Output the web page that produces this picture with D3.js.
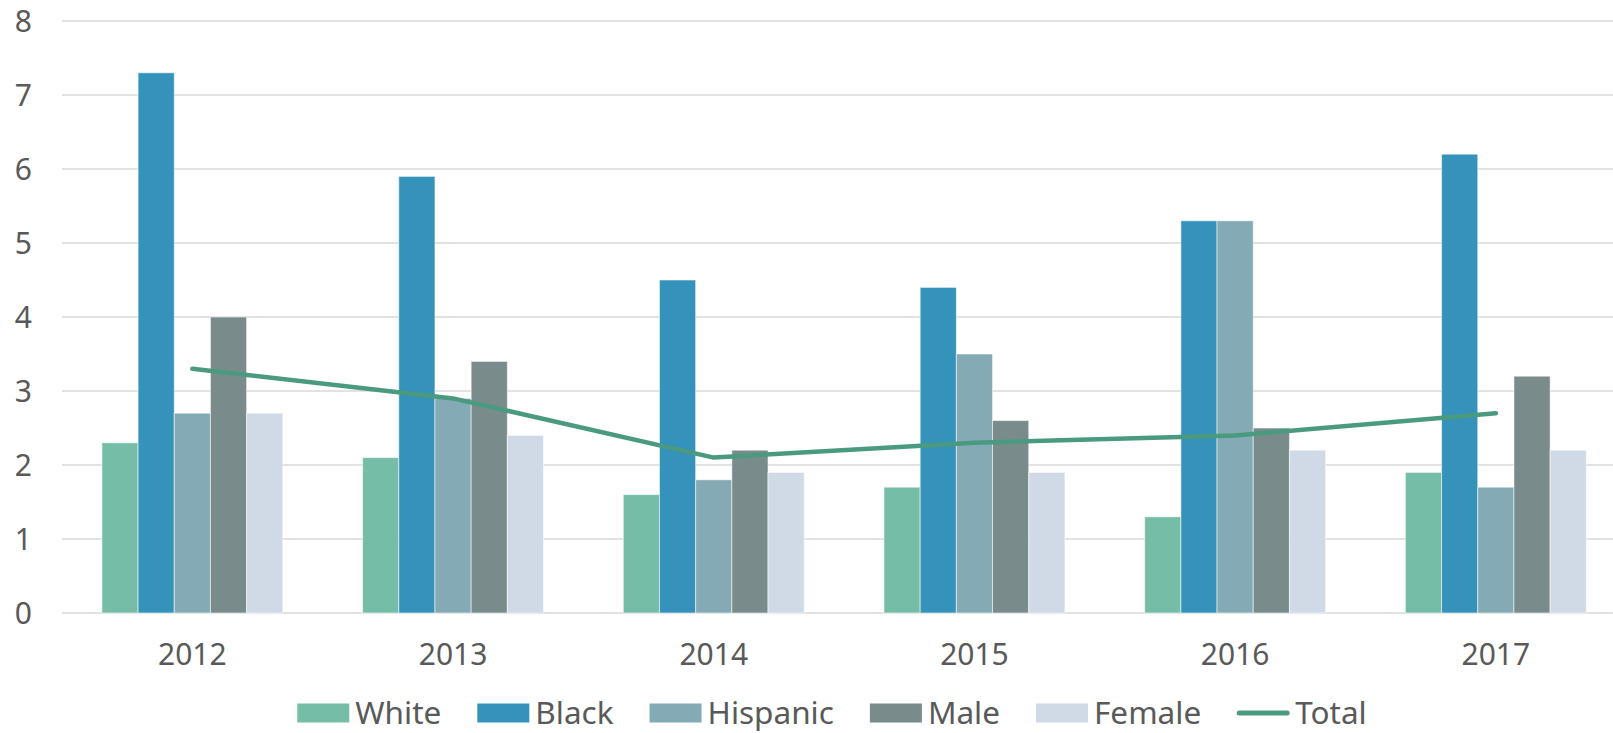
<!DOCTYPE html>
<html>
<head>
<meta charset="utf-8">
<script src="https://cdn.jsdelivr.net/npm/d3@7"></script>
<style>
  html, body { margin: 0; padding: 0; background: #fff; }
  svg { display: block; }
  .tick-label, .legend-label { font-family: "Noto Sans", "Open Sans", sans-serif; fill: #595959; }
</style>
</head>
<body>
<div id="chart"></div>
<script>
const years = ["2012", "2013", "2014", "2015", "2016", "2017"];
const seriesNames = ["White", "Black", "Hispanic", "Male", "Female"];
const white = [2.3, 2.1, 1.6, 1.7, 1.3, 1.9];
const black = [7.3, 5.9, 4.5, 4.4, 5.3, 6.2];
const hispanic = [2.7, 2.9, 1.8, 3.5, 5.3, 1.7];
const male = [4.0, 3.4, 2.2, 2.6, 2.5, 3.2];
const female = [2.7, 2.4, 1.9, 1.9, 2.2, 2.2];
const total = [3.3, 2.9, 2.1, 2.3, 2.4, 2.7];
const yTicks = [0, 1, 2, 3, 4, 5, 6, 7, 8];

const WIDTH = 1613;
const HEIGHT = 733;
const COLORS = {
  White: "#75bda7",
  Black: "#3592ba",
  Hispanic: "#84abb5",
  Male: "#7a8b8c",
  Female: "#cfdae6",
  Total: "#4a9a80"
};

const seriesValues = [white, black, hispanic, male, female];

const svg = d3.select("#chart")
  .append("svg")
  .attr("width", WIDTH)
  .attr("height", HEIGHT)
  .attr("viewBox", `0 0 ${WIDTH} ${HEIGHT}`);

const plotLeft = 62;
const x0 = d3.scaleBand()
  .domain(years)
  .range([plotLeft, 1626.2])
  .paddingInner(0.306)
  .paddingOuter(0.153);

const x1 = d3.scaleBand()
  .domain(seriesNames)
  .range([0, x0.bandwidth()]);

const y = d3.scaleLinear().domain([0, 8]).range([613, 21]);

// gridlines
svg.append("g")
  .selectAll("line")
  .data(yTicks)
  .enter()
  .append("line")
  .attr("x1", plotLeft)
  .attr("x2", WIDTH)
  .attr("y1", (d) => y(d))
  .attr("y2", (d) => y(d))
  .attr("stroke", "#d9d9d9")
  .attr("stroke-width", 1.5);

// y labels
svg.append("g")
  .selectAll("text")
  .data(yTicks)
  .enter()
  .append("text")
  .attr("class", "tick-label")
  .attr("x", 32)
  .attr("y", (d) => y(d) + 11)
  .attr("text-anchor", "end")
  .attr("font-size", 30)
  .text((d) => d);

// x labels
svg.append("g")
  .selectAll("text")
  .data(years)
  .enter()
  .append("text")
  .attr("class", "tick-label")
  .attr("x", (d) => x0(d) + x0.bandwidth() / 2)
  .attr("y", 665)
  .attr("text-anchor", "middle")
  .attr("font-size", 30)
  .text((d) => d);

// bars
const barData = [];
years.forEach((year, i) => {
  seriesNames.forEach((name, s) => {
    barData.push({ year, name, value: seriesValues[s][i] });
  });
});

svg.append("g")
  .selectAll("rect")
  .data(barData)
  .enter()
  .append("rect")
  .attr("x", (d) => x0(d.year) + x1(d.name))
  .attr("y", (d) => y(d.value))
  .attr("width", x1.bandwidth())
  .attr("height", (d) => y(0) - y(d.value))
  .attr("fill", (d) => COLORS[d.name])
  .attr("stroke", "rgba(255,255,255,0.55)")
  .attr("stroke-width", 1);

// total line
const line = d3.line()
  .x((d, i) => x0(years[i]) + x0.bandwidth() / 2)
  .y((d) => y(d));

svg.append("path")
  .datum(total)
  .attr("d", line)
  .attr("fill", "none")
  .attr("stroke", COLORS.Total)
  .attr("stroke-width", 4.5)
  .attr("stroke-linecap", "round")
  .attr("stroke-linejoin", "round");

// legend
const legendItems = seriesNames.concat(["Total"]);
const legend = svg.append("g").attr("class", "legend");
const legendY = 713;
const swatchW = 52;
const swatchH = 19;
const textGap = 6;
const itemGap = 36;
let cursor = 0;
legendItems.forEach((name) => {
  const item = legend.append("g").attr("transform", `translate(${cursor},0)`);
  if (name === "Total") {
    item.append("line")
      .attr("x1", 2)
      .attr("x2", swatchW - 2)
      .attr("y1", legendY)
      .attr("y2", legendY)
      .attr("stroke", COLORS.Total)
      .attr("stroke-width", 5)
      .attr("stroke-linecap", "round");
  } else {
    item.append("rect")
      .attr("x", 0)
      .attr("y", legendY - swatchH / 2)
      .attr("width", swatchW)
      .attr("height", swatchH)
      .attr("fill", COLORS[name]);
  }
  const label = item.append("text")
    .attr("class", "legend-label")
    .attr("x", swatchW + textGap)
    .attr("y", legendY + 11)
    .attr("font-size", 31.5)
    .text(name);
  cursor += swatchW + textGap + label.node().getComputedTextLength() + itemGap;
});
const legendWidth = cursor - itemGap;
legend.attr("transform", `translate(${832 - legendWidth / 2},0)`);
</script>
</body>
</html>
